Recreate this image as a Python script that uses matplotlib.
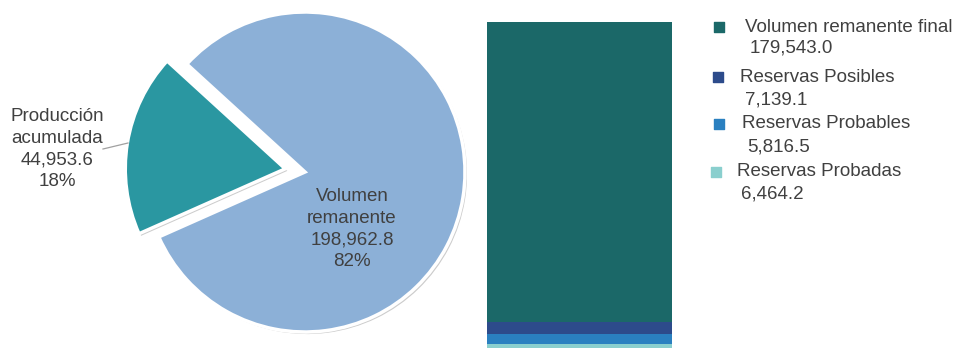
import matplotlib.pyplot as plt
import matplotlib.patheffects as pe

plt.rcParams['font.family'] = ['Liberation Sans', 'DejaVu Sans']

# pie: accumulated production vs remaining volume
pie_labels = ['Producción\nacumulada', 'Volumen\nremanente']
pie_values = [44953.6, 198962.8]
pie_colors = ['#2A97A1', '#8CB0D7']

# bar: breakdown of the remaining volume (bottom to top)
bar_labels = ['Reservas Probadas', 'Reservas Probables', 'Reservas Posibles',
              'Volumen remanente final']
bar_values = [6464.2, 5816.5, 7139.1, 179543.0]
bar_colors = ['#8ACFCE', '#2A80C0', '#2D4B8B', '#1B6868']

txt = '#404040'
fs = 13.5
W, H = 957, 348
fig = plt.figure(figsize=(W / 100, H / 100), dpi=100)

# ---- pie ----
cx, cy, r = 305, 172, 160
pw = 620
ax = fig.add_axes([0, 0, pw / W, 1])
wedges, _ = ax.pie(pie_values, colors=pie_colors, startangle=137.6,
                   explode=[0.125, 0], radius=1,
                   wedgeprops=dict(edgecolor='white', linewidth=2.5))
for w in wedges:
    w.set_path_effects([pe.SimplePatchShadow(offset=(1.5, -1.5), shadow_rgbFace='#9a9a9a', alpha=0.5),
                        pe.Normal()])
ax.set_aspect('auto')
ax.set_xlim((0 - cx) / r, (pw - cx) / r)
ax.set_ylim((cy - H) / r, cy / r)
ax.axis('off')

tot = sum(pie_values)
def px(x, y):
    return (x - cx) / r, (cy - y) / r

lx, ly = px(57, 149)
ax.text(lx, ly, '%s\n%s\n%d%%' % (pie_labels[0], f'{pie_values[0]:,.1f}', round(pie_values[0] / tot * 100)),
        ha='center', va='center', fontsize=fs, color=txt, linespacing=1.35)
ax.plot(*zip(px(103, 149), px(128, 143)), color='#a0a0a0', lw=0.9)
vx, vy = px(352, 229)
ax.text(vx, vy, '%s\n%s\n%d%%' % (pie_labels[1], f'{pie_values[1]:,.1f}', round(pie_values[1] / tot * 100)),
        ha='center', va='center', fontsize=fs, color=txt, linespacing=1.35)

# ---- stacked bar ----
bx0, bx1, btop, bbot = 487, 672, 22, 355
axb = fig.add_axes([bx0 / W, (H - bbot) / H, (bx1 - bx0) / W, (bbot - btop) / H])
bottom = 0
for v, c in zip(bar_values, bar_colors):
    axb.bar(0, v, bottom=bottom, width=1, color=c)
    bottom += v
axb.set_xlim(-0.5, 0.5)
axb.set_ylim(0, bottom)
axb.axis('off')

# ---- legend ----
axl = fig.add_axes([0, 0, 1, 1])
axl.set_xlim(0, W)
axl.set_ylim(H, 0)
axl.axis('off')
leg_pos = [  # (square x, y, label x, value x, value y)
    (716, 172, 737, 741, 194),
    (719, 124, 742, 747, 147),
    (718, 77, 740, 745, 100),
    (719, 27, 745, 750, 48),
]
for lab, v, c, (sx, sy, tx, vx_, vy_) in zip(bar_labels, bar_values, bar_colors, leg_pos):
    axl.scatter(sx, sy, marker='s', s=45, color=c)
    axl.text(tx, sy, lab, ha='left', va='center', fontsize=fs, color=txt)
    axl.text(vx_, vy_, f'{v:,.1f}', ha='left', va='center', fontsize=fs, color=txt)

fig.savefig('out.png', dpi=100)
